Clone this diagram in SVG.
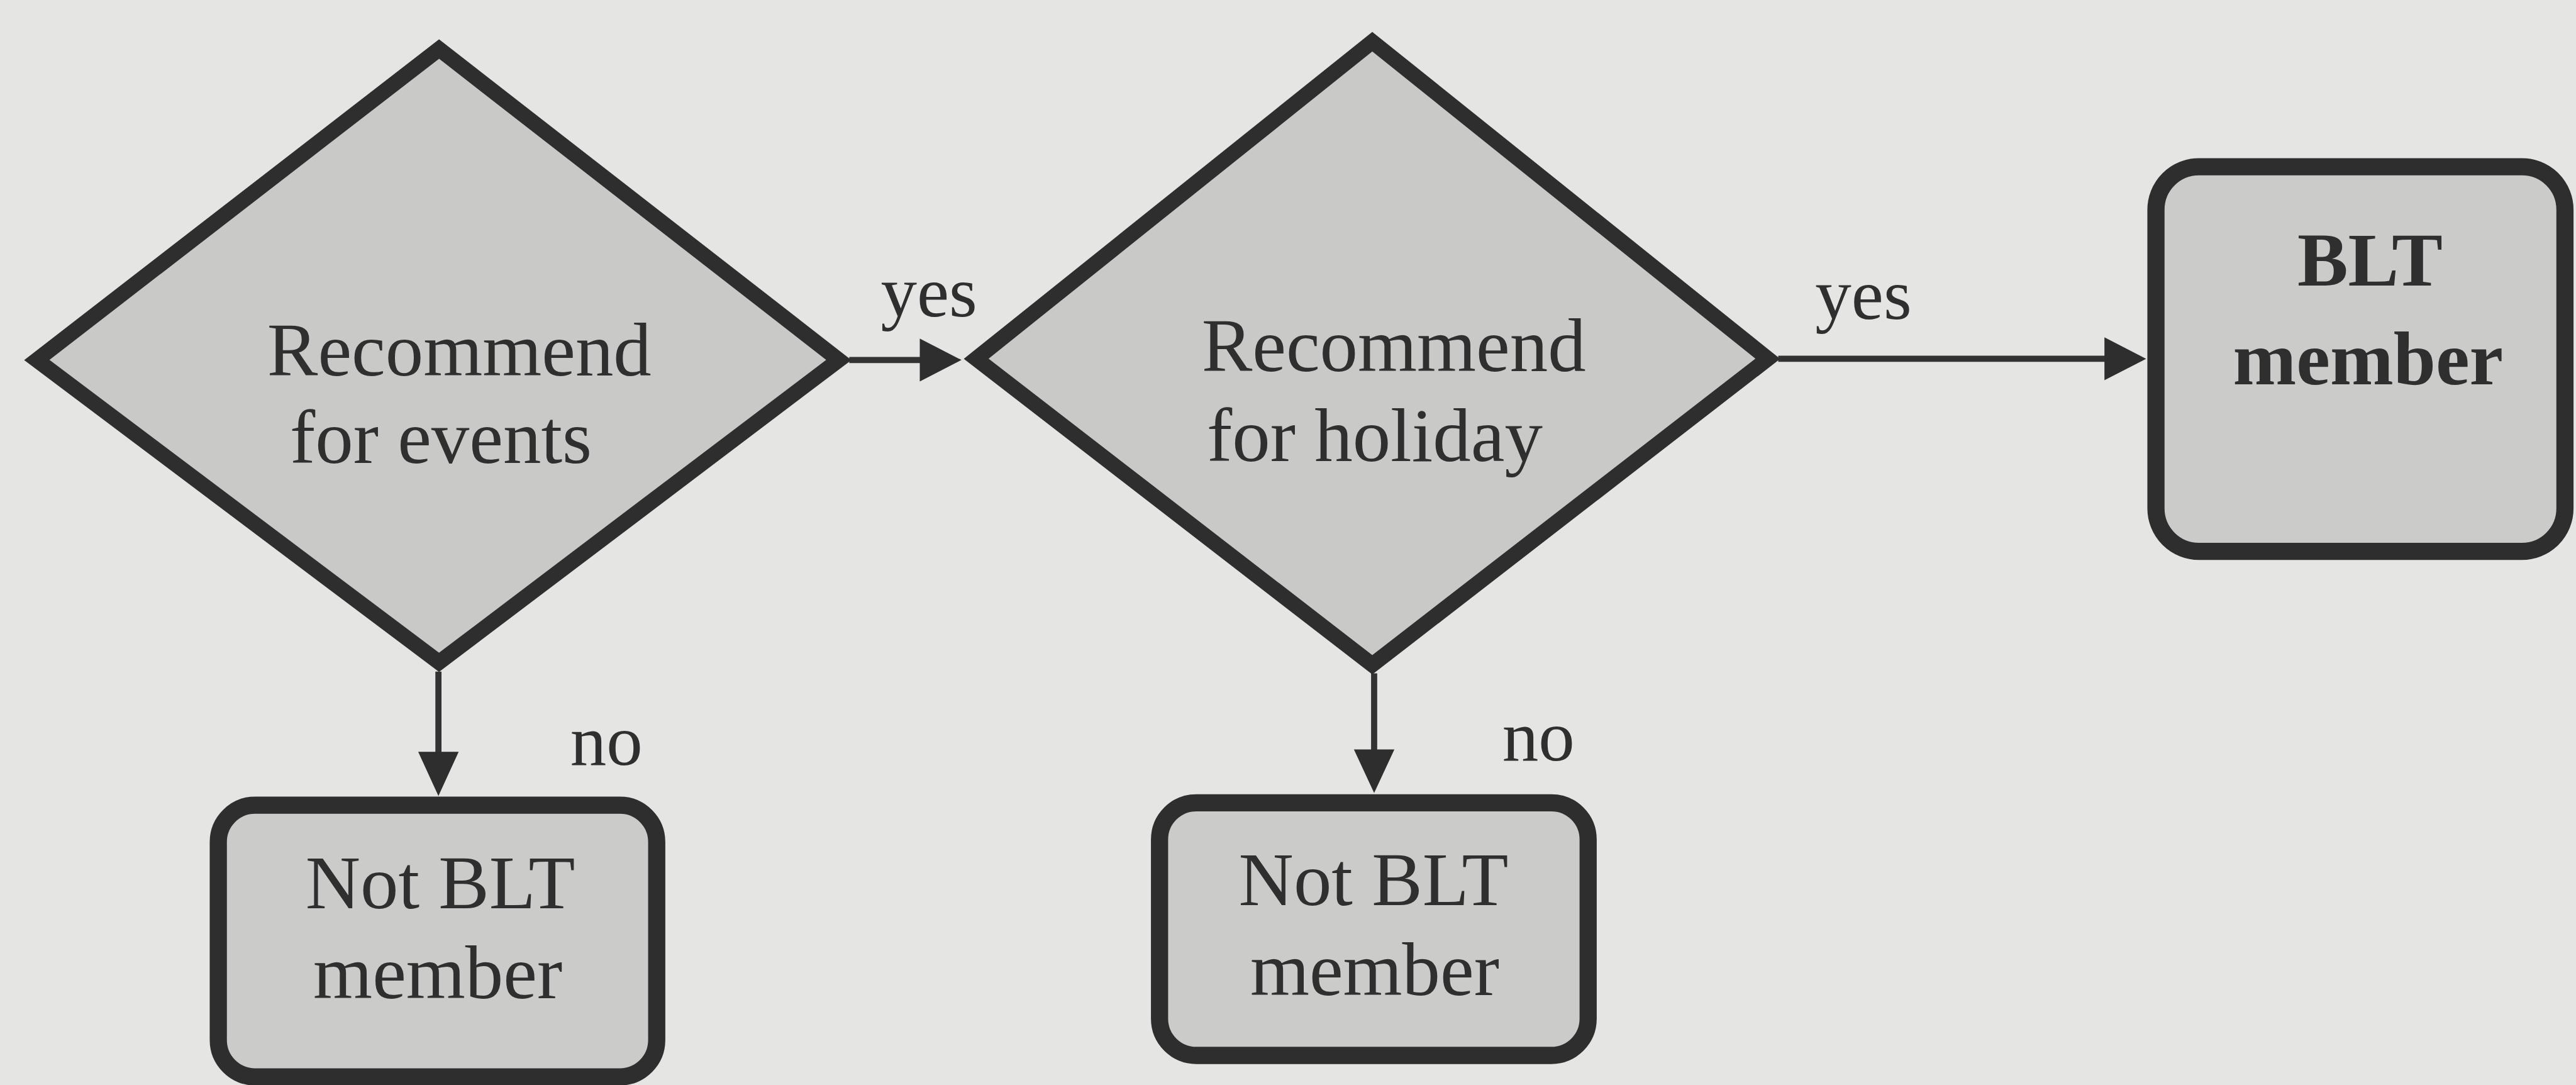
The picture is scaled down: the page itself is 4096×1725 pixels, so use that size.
<svg xmlns="http://www.w3.org/2000/svg" width="4096" height="1725" viewBox="0 0 4096 1725">
<style>
.shape{fill:#c9c9c8;stroke:#2e2e2e;stroke-width:25;stroke-linejoin:miter;stroke-miterlimit:4}
.box{fill:#cbcbca;stroke:#2e2e2e;stroke-width:28}
.line{stroke:#333;stroke-width:10;fill:none}
.head{fill:#2e2e2e}
.t{font-family:"Liberation Serif","Times New Roman",serif;font-size:124px;fill:#2f2f2f;text-anchor:middle}
.b{font-weight:bold}
.lbl{font-family:"Liberation Serif","Times New Roman",serif;font-size:118px;fill:#2f2f2f;text-anchor:middle}
</style>
<rect x="0" y="0" width="4096" height="1725" fill="#e5e5e3"/>
<g transform="scale(0.975)">
<g id="connectors">
<line class="line" x1="1385" y1="587" x2="1505" y2="587"/>
<polygon class="head" points="1500,552 1568,587 1500,622"/>
<line class="line" x1="2900" y1="585" x2="3437" y2="585"/>
<polygon class="head" points="3432,550 3500,585 3432,620"/>
<line class="line" x1="715" y1="1095" x2="715" y2="1230"/>
<polygon class="head" points="682,1226 748,1226 715,1298"/>
<line class="line" x1="2241" y1="1098" x2="2241" y2="1226"/>
<polygon class="head" points="2208,1222 2274,1222 2241,1293"/>
<text class="lbl" x="1515" y="516">yes</text>
<text class="lbl" x="3039" y="520">yes</text>
<text class="lbl" x="989" y="1247">no</text>
<text class="lbl" x="2509" y="1240">no</text>
</g>
<g id="decision-events">
<polygon class="shape" points="60,587 716,80 1368,587 716,1080"/>
<text class="t" x="749" y="612">Recommend</text>
<text class="t" x="719" y="755">for events</text>
</g>
<g id="decision-holiday">
<polygon class="shape" points="1592,585 2238,68 2883,585 2238,1084"/>
<text class="t" x="2273" y="605">Recommend</text>
<text class="t" x="2242" y="752">for holiday</text>
</g>
<g id="blt-member">
<rect class="box" x="3516" y="272" width="667" height="627" rx="70"/>
<text class="t b" x="3865" y="466">BLT</text>
<text class="t b" x="3862" y="627">member</text>
</g>
<g id="not-blt-1">
<rect class="box" x="356" y="1313" width="715" height="443" rx="60"/>
<text class="t" x="718" y="1481">Not BLT</text>
<text class="t" x="714" y="1628">member</text>
</g>
<g id="not-blt-2">
<rect class="box" x="1891" y="1309" width="699" height="412" rx="60"/>
<text class="t" x="2240" y="1476">Not BLT</text>
<text class="t" x="2242" y="1623">member</text>
</g>
</g>
</svg>
